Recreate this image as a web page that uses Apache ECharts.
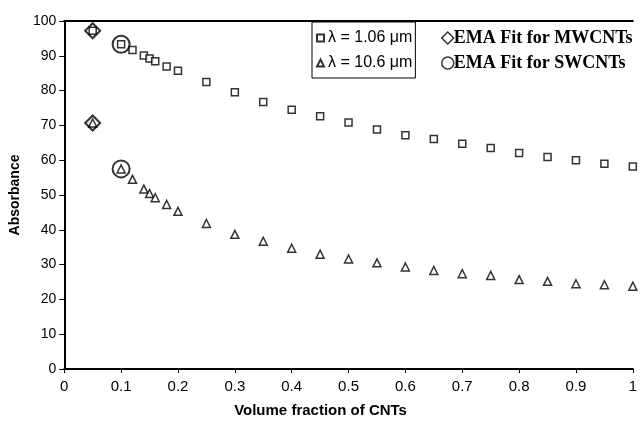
<!DOCTYPE html>
<html>
<head>
<meta charset="utf-8">
<script src="https://cdn.jsdelivr.net/npm/echarts@6/dist/echarts.min.js"></script>
<style>
  html, body { margin: 0; padding: 0; background: #fff; }
  #chart { width: 640px; height: 423px; }
</style>
</head>
<body>
<div id="chart"></div>
<script>
// volume fraction of CNTs (x)
var volFrac = [0.05, 0.1, 0.12, 0.14, 0.15, 0.16, 0.18, 0.2, 0.25, 0.3, 0.35, 0.4, 0.45, 0.5,
               0.55, 0.6, 0.65, 0.7, 0.75, 0.8, 0.85, 0.9, 0.95, 1.0];
// absorbance at 1.06 um
var abs106 = [97.2, 93.3, 91.7, 90.1, 89.2, 88.4, 86.9, 85.7, 82.5, 79.5, 76.7, 74.5, 72.6, 70.8,
              68.8, 67.2, 66.1, 64.7, 63.5, 62.1, 60.9, 60.0, 59.0, 58.2];
// absorbance at 10.6 um
var abs10_6 = [70.7, 57.5, 54.5, 51.7, 50.4, 49.2, 47.3, 45.3, 41.8, 38.7, 36.7, 34.7, 33.0, 31.6,
               30.5, 29.3, 28.3, 27.4, 26.9, 25.7, 25.2, 24.5, 24.2, 23.8];
// EMA fits
var emaMWx = [0.05, 0.05];
var emaMWy = [97.2, 70.7];
var emaSWx = [0.1, 0.1];
var emaSWy = [93.3, 57.5];

var seriesNames = ['λ = 1.06 μm', 'λ = 10.6 μm', 'EMA Fit for MWCNTs', 'EMA Fit for SWCNTs'];

function pairs(xs, ys) {
  return xs.map(function (x, i) { return [x, ys[i]]; });
}

var myChart = echarts.init(document.getElementById('chart'));

var hollow = { color: '#fff', borderColor: '#000', borderWidth: 1.5 };
var ring = { color: 'rgba(255,255,255,0)', borderColor: '#000', borderWidth: 2 };

var option = {
  backgroundColor: '#fff',
  animation: false,
  grid: { left: 62, right: 2, top: 21, bottom: 48 },
  legend: [
    {
      data: [seriesNames[0], seriesNames[1]],
      orient: 'vertical',
      left: 312, top: 22,
      borderColor: '#000', borderWidth: 1,
      padding: [7, 3, 6, 4],
      itemGap: 7,
      itemWidth: 7, itemHeight: 7,
      textStyle: { fontFamily: 'Liberation Sans', fontSize: 16, lineHeight: 18, color: '#000', padding: [0, 0, 0, -1] }
    },
    {
      data: [seriesNames[2], seriesNames[3]],
      orient: 'vertical',
      left: 441, top: 29,
      padding: 0,
      itemGap: 7,
      itemWidth: 12, itemHeight: 12,
      itemStyle: { borderWidth: 1.5 },
      textStyle: { fontFamily: 'Liberation Serif', fontWeight: 'bold', fontSize: 18, lineHeight: 18, color: '#000', padding: [0, 0, 0, -5] }
    }
  ],
  xAxis: [
    {
      type: 'value', min: 0, max: 1, interval: 0.1,
      name: 'Volume fraction of CNTs',
      nameLocation: 'middle', nameGap: 34,
      nameTextStyle: { fontFamily: 'Liberation Sans', fontWeight: 'bold', fontSize: 15, color: '#000', padding: [0, 56, 0, 0] },
      axisLine: { lineStyle: { color: '#000', width: 2 } },
      axisTick: { inside: false, length: 4, lineStyle: { color: '#000', width: 1 } },
      axisLabel: { margin: 10, fontFamily: 'Liberation Sans', fontSize: 15, color: '#000' },
      splitLine: { show: false }
    },
    {
      type: 'value', min: 0, max: 1, position: 'top',
      axisLine: { onZero: false, lineStyle: { color: '#000', width: 2 } },
      axisTick: { show: false },
      axisLabel: { show: false },
      splitLine: { show: false }
    }
  ],
  yAxis: {
    type: 'value', min: 0, max: 100, interval: 10,
    name: 'Absorbance',
    nameLocation: 'middle', nameGap: 34,
    nameTextStyle: { fontFamily: 'Liberation Sans', fontWeight: 'bold', fontSize: 14, color: '#000' },
    axisLine: { show: true, lineStyle: { color: '#000', width: 2 } },
    axisTick: { show: true, inside: false, length: 5, lineStyle: { color: '#000', width: 1 } },
    axisLabel: { margin: 8, fontFamily: 'Liberation Sans', fontSize: 14, color: '#000' },
    splitLine: { show: false }
  },
  series: [
    {
      name: seriesNames[0], type: 'scatter',
      symbol: 'rect', symbolSize: 7,
      itemStyle: hollow,
      data: pairs(volFrac, abs106)
    },
    {
      name: seriesNames[1], type: 'scatter',
      symbol: 'triangle', symbolSize: 8,
      itemStyle: hollow,
      data: pairs(volFrac, abs10_6)
    },
    {
      name: seriesNames[2], type: 'scatter',
      symbol: 'diamond', symbolSize: 15,
      itemStyle: ring,
      data: pairs(emaMWx, emaMWy)
    },
    {
      name: seriesNames[3], type: 'scatter',
      symbol: 'circle', symbolSize: 17,
      itemStyle: ring,
      data: pairs(emaSWx, emaSWy)
    }
  ]
};

myChart.setOption(option);
</script>
</body>
</html>
